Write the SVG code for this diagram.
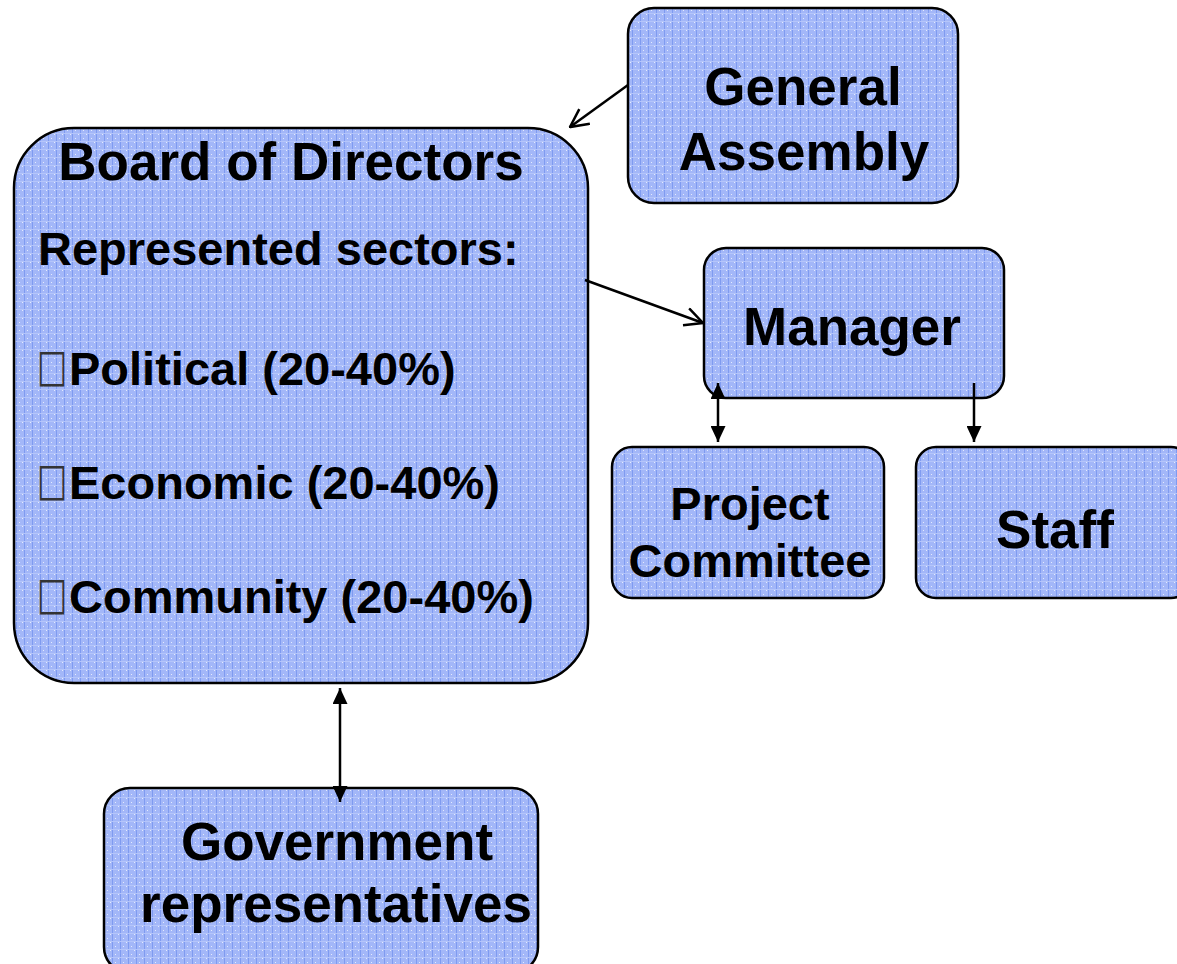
<svg xmlns="http://www.w3.org/2000/svg" width="1177" height="964" viewBox="0 0 1177 964">
<defs>
<pattern id="tex" width="8" height="8" patternUnits="userSpaceOnUse">
<rect width="8" height="8" fill="#a3b7f8"/>
<rect x="0" y="0" width="1" height="8" fill="#7f9bf0"/>
<rect x="0" y="5" width="8" height="1" fill="#b4c5fa"/>
<rect x="3" y="2" width="1" height="1" fill="#e4ebfd"/>
<rect x="6" y="6" width="1" height="1" fill="#e4ebfd"/>
</pattern>
<marker id="open" viewBox="0 0 20 20" refX="19" refY="10" markerWidth="20" markerHeight="20" markerUnits="userSpaceOnUse" orient="auto">
<path d="M1,1 L19,10 L1,19" fill="none" stroke="#000" stroke-width="2.5"/>
</marker>
<marker id="solid" viewBox="0 0 16 15" refX="16" refY="7.5" markerWidth="16" markerHeight="15" markerUnits="userSpaceOnUse" orient="auto-start-reverse">
<path d="M0,0 L16,7.5 L0,15 Z" fill="#000"/>
</marker>
</defs>
<style>
.box{fill:url(#tex);stroke:#000;stroke-width:2.5}
.t{font-family:"Liberation Sans",Arial,sans-serif;font-weight:bold;fill:#000}
.big{font-size:53px}
.mid{font-size:47px}
.tofu{font-family:"DejaVu Sans",sans-serif;font-weight:normal;font-size:32px;fill:#333}
.c{stroke:#000;stroke-width:2.5;fill:none}
</style>
<rect width="1177" height="964" fill="#fff"/>
<g id="general-assembly">
<rect class="box" x="628" y="8" width="330" height="195" rx="26"/>
<text class="t big" x="803" y="105" text-anchor="middle">General</text>
<text class="t big" x="804" y="170" text-anchor="middle">Assembly</text>
</g>
<g id="board">
<rect class="box" x="14" y="128" width="574" height="555" rx="60"/>
<text class="t big" x="291" y="180" text-anchor="middle">Board of Directors</text>
<text class="t mid" x="38" y="265">Represented sectors:</text>
<text class="tofu" transform="translate(37,381) scale(1,1.4)">□</text>
<text class="t mid" x="69" y="385">Political (20-40%)</text>
<text class="tofu" transform="translate(37,495) scale(1,1.4)">□</text>
<text class="t mid" x="69" y="499">Economic (20-40%)</text>
<text class="tofu" transform="translate(37,609) scale(1,1.4)">□</text>
<text class="t mid" x="69" y="613">Community (20-40%)</text>
</g>
<g id="manager">
<rect class="box" x="704" y="248" width="300" height="150" rx="22"/>
<text class="t big" x="852" y="345" text-anchor="middle">Manager</text>
</g>
<g id="project-committee">
<rect class="box" x="612" y="447" width="272" height="151" rx="20"/>
<text class="t mid" x="750" y="520" text-anchor="middle">Project</text>
<text class="t mid" x="750" y="577" text-anchor="middle">Committee</text>
</g>
<g id="staff">
<rect class="box" x="916" y="447" width="275" height="151" rx="20"/>
<text class="t big" x="1055" y="548" text-anchor="middle">Staff</text>
</g>
<g id="government">
<rect class="box" x="104" y="788" width="434" height="185" rx="26"/>
<text class="t big" x="337" y="860" text-anchor="middle">Government</text>
<text class="t big" x="336" y="922" text-anchor="middle">representatives</text>
</g>
<g id="connectors">
<line class="c" x1="628" y1="85" x2="570" y2="127" marker-end="url(#open)"/>
<line class="c" x1="585" y1="280" x2="703" y2="323" marker-end="url(#open)"/>
<line class="c" x1="718" y1="383" x2="718" y2="442" marker-start="url(#solid)" marker-end="url(#solid)"/>
<line class="c" x1="974" y1="383" x2="974" y2="442" marker-end="url(#solid)"/>
<line class="c" x1="340" y1="688" x2="340" y2="802" marker-start="url(#solid)" marker-end="url(#solid)"/>
</g>
</svg>
